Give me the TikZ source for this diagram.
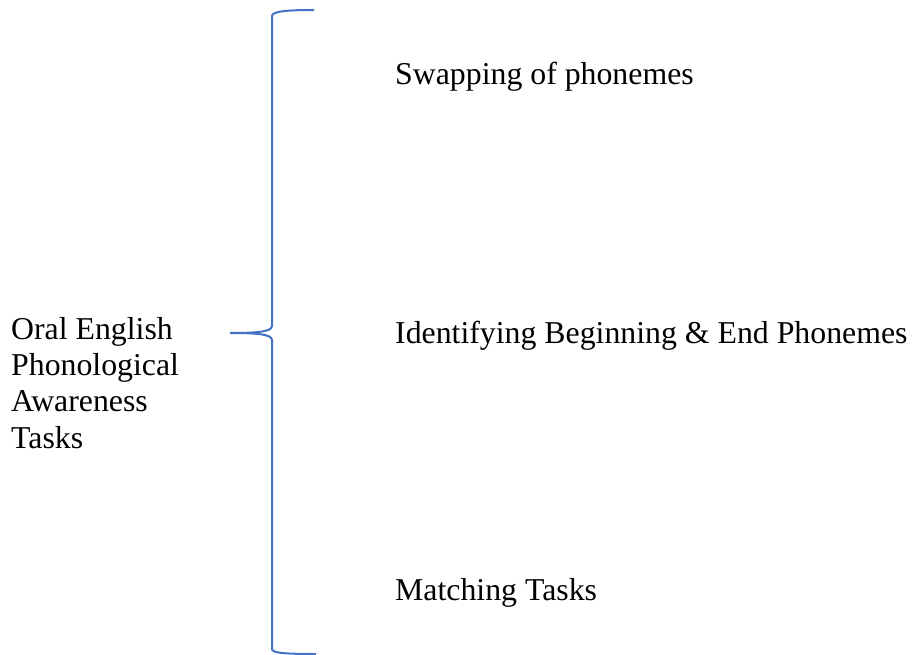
\documentclass[tikz,border=0pt]{standalone}
\usepackage{fontspec}
\setmainfont{Liberation Serif}
\definecolor{bracecol}{HTML}{4472C4}
\begin{document}
\begin{tikzpicture}[x=1pt,y=-1pt,
  lbl/.style={anchor=base west,inner sep=0pt,font=\fontsize{31.8}{36.3}\selectfont,align=left},
  bracestyle/.style={draw=bracecol,line width=2pt}]
\useasboundingbox (0,0) rectangle (913,655);
\node[lbl] (left) at (11,448) {Oral English\\Phonological\\Awareness\\Tasks};
\node[lbl] (swap) at (395,85) {Swapping of phonemes};
\node[lbl] (ident) at (395,343) {Identifying Beginning \& End Phonemes};
\node[lbl] (match) at (395,600) {Matching Tasks};
\draw[bracestyle] (314,10) .. controls (290,10) and (272,11) .. (272,16)
  -- (272,326) .. controls (272,332) and (255,333) .. (230,333)
  .. controls (255,333) and (272,334) .. (272,340)
  -- (272,649) .. controls (272,653) and (285,654) .. (316,654);
\end{tikzpicture}
\end{document}
